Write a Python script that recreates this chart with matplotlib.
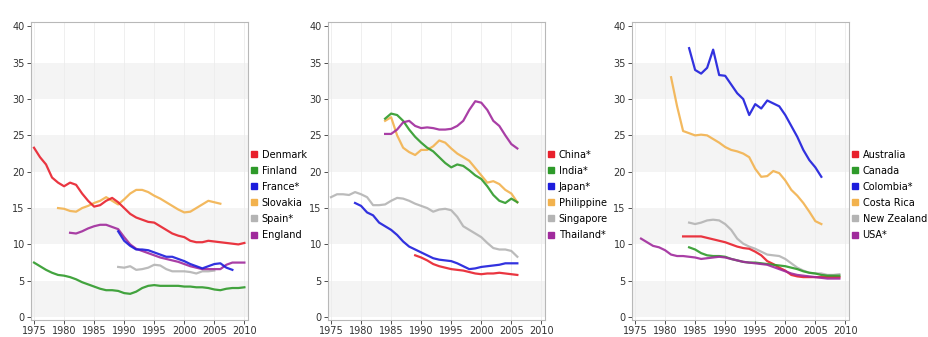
import matplotlib
matplotlib.use("Agg")
import matplotlib.pyplot as plt
from matplotlib.lines import Line2D

# panel 1
p1_names = ["Denmark", "Finland", "France*", "Slovakia", "Spain*", "England"]
denmark_x = list(range(1975, 2011))
denmark_y = [23.3, 22, 21, 19.2, 18.5, 18, 18.5, 18.2, 17, 16, 15.2, 15.4, 16, 16.4, 15.8, 15,
             14.2, 13.7, 13.4, 13.1, 13, 12.5, 12, 11.5, 11.2, 11, 10.5, 10.3, 10.3, 10.5, 10.4,
             10.3, 10.2, 10.1, 10.0, 10.2]
finland_x = list(range(1975, 2011))
finland_y = [7.5, 7, 6.5, 6.1, 5.8, 5.7, 5.5, 5.2, 4.8, 4.5, 4.2, 3.9, 3.7, 3.7, 3.6, 3.3, 3.2,
             3.5, 4.0, 4.3, 4.4, 4.3, 4.3, 4.3, 4.3, 4.2, 4.2, 4.1, 4.1, 4.0, 3.8, 3.7, 3.9, 4.0,
             4.0, 4.1]
france_x = list(range(1989, 2009))
france_y = [11.8, 10.5, 9.8, 9.3, 9.3, 9.2, 8.9, 8.6, 8.3, 8.3, 8.0, 7.7, 7.3, 7.0, 6.7, 7.0,
            7.3, 7.4, 6.8, 6.5]
slovakia_x = list(range(1979, 2007))
slovakia_y = [15, 14.9, 14.6, 14.5, 15, 15.3, 15.7, 16, 16.5, 16, 15.5, 16.2, 17, 17.5, 17.5,
              17.2, 16.7, 16.3, 15.8, 15.3, 14.8, 14.4, 14.5, 15, 15.5, 16, 15.8, 15.6]
spain_x = list(range(1989, 2006))
spain_y = [6.9, 6.8, 7, 6.5, 6.6, 6.8, 7.2, 7.1, 6.6, 6.3, 6.3, 6.3, 6.2, 6.0, 6.3, 6.3, 6.4]
england_x = list(range(1981, 2011))
england_y = [11.6, 11.5, 11.8, 12.2, 12.5, 12.7, 12.7, 12.4, 12.1, 11, 10, 9.4, 9.1, 8.8, 8.5,
             8.2, 8.0, 7.8, 7.6, 7.3, 7.0, 6.8, 6.6, 6.6, 6.6, 6.6, 7.2, 7.5, 7.5, 7.5]

# panel 2
p2_names = ["China*", "India*", "Japan*", "Philippine", "Singapore", "Thailand*"]
china_x = list(range(1989, 2007))
china_y = [8.5, 8.2, 7.8, 7.3, 7.0, 6.8, 6.6, 6.5, 6.4, 6.2, 6.0, 5.9, 6.0, 6.0, 6.1, 6.0, 5.9, 5.8]
india_x = list(range(1984, 2007))
india_y = [27.3, 28, 27.8, 27, 25.8, 24.8, 24, 23.3, 22.8, 22, 21.2, 20.6, 21, 20.8, 20.2, 19.5,
           19, 18, 16.8, 16, 15.7, 16.3, 15.8]
japan_x = list(range(1979, 2007))
japan_y = [15.7, 15.3, 14.4, 14, 13, 12.5, 12, 11.3, 10.4, 9.7, 9.3, 8.9, 8.5, 8.1, 7.9, 7.8,
           7.7, 7.4, 7.0, 6.6, 6.7, 6.9, 7.0, 7.1, 7.2, 7.4, 7.4, 7.4]
philippine_x = list(range(1984, 2007))
philippine_y = [27, 27.5, 25, 23.3, 22.7, 22.3, 23, 23, 23.5, 24.3, 24, 23.2, 22.5, 22, 21.5,
                20.5, 19.5, 18.5, 18.7, 18.3, 17.5, 17, 15.8]
singapore_x = list(range(1975, 2007))
singapore_y = [16.5, 16.9, 16.9, 16.8, 17.2, 16.9, 16.5, 15.4, 15.4, 15.5, 16, 16.4, 16.3, 16,
               15.6, 15.3, 15, 14.5, 14.8, 14.9, 14.7, 13.8, 12.5, 12, 11.5, 11, 10.2, 9.5, 9.3,
               9.3, 9.1, 8.3]
thailand_x = list(range(1984, 2007))
thailand_y = [25.2, 25.2, 25.8, 26.8, 27, 26.3, 26, 26.1, 26, 25.8, 25.8, 25.9, 26.3, 27, 28.5,
              29.7, 29.5, 28.5, 27, 26.3, 25, 23.8, 23.2]

# panel 3
p3_names = ["Australia", "Canada", "Colombia*", "Costa Rica", "New Zealand", "USA*"]
australia_x = list(range(1983, 2010))
australia_y = [11.1, 11.1, 11.1, 11.1, 10.9, 10.7, 10.5, 10.3, 10.0, 9.7, 9.5, 9.4, 9.0, 8.5,
               7.7, 7.3, 6.8, 6.4, 5.8, 5.6, 5.5, 5.5, 5.5, 5.5, 5.5, 5.5, 5.5]
canada_x = list(range(1984, 2010))
canada_y = [9.6, 9.3, 8.8, 8.5, 8.4, 8.4, 8.3, 8.0, 7.8, 7.6, 7.5, 7.5, 7.4, 7.3, 7.2, 7.1, 7.0,
            6.8, 6.6, 6.3, 6.1, 6.0, 5.8, 5.7, 5.7, 5.7]
colombia_x = list(range(1984, 2007))
colombia_y = [37, 34, 33.5, 34.3, 36.8, 33.3, 33.2, 32, 30.8, 30, 27.8, 29.3, 28.7, 29.8, 29.4,
              29, 27.8, 26.3, 24.8, 23, 21.6, 20.6, 19.3]
costarica_x = list(range(1981, 2007))
costarica_y = [33, 29, 25.6, 25.3, 25, 25.1, 25, 24.5, 24, 23.4, 23, 22.8, 22.5, 22, 20.4, 19.3,
               19.4, 20.1, 19.8, 18.8, 17.5, 16.7, 15.7, 14.5, 13.2, 12.8]
newzealand_x = list(range(1984, 2010))
newzealand_y = [13, 12.8, 13, 13.3, 13.4, 13.3, 12.8, 12, 10.8, 10.1, 9.7, 9.4, 9, 8.6, 8.5, 8.4,
                8.0, 7.4, 6.8, 6.4, 6.1, 6.0, 6.0, 5.8, 5.8, 5.9]
usa_x = list(range(1976, 2010))
usa_y = [10.8, 10.3, 9.8, 9.6, 9.2, 8.6, 8.4, 8.4, 8.3, 8.2, 8.0, 8.1, 8.2, 8.3, 8.2, 8.0, 7.8,
         7.6, 7.5, 7.4, 7.3, 7.2, 6.9, 6.6, 6.3, 6.0, 5.8, 5.7, 5.6, 5.5, 5.4, 5.3, 5.3, 5.3]

colors = ["#e8202c", "#2e9a2a", "#1c1cdc", "#f2b24e", "#b4b4b4", "#a02a9c"]

panels = [
    (p1_names, [(denmark_x, denmark_y), (finland_x, finland_y), (france_x, france_y),
                (slovakia_x, slovakia_y), (spain_x, spain_y), (england_x, england_y)]),
    (p2_names, [(china_x, china_y), (india_x, india_y), (japan_x, japan_y),
                (philippine_x, philippine_y), (singapore_x, singapore_y), (thailand_x, thailand_y)]),
    (p3_names, [(australia_x, australia_y), (canada_x, canada_y), (colombia_x, colombia_y),
                (costarica_x, costarica_y), (newzealand_x, newzealand_y), (usa_x, usa_y)]),
]
# draw order back to front (gray under colors)
order = [4, 3, 0, 1, 5, 2]

fig = plt.figure(figsize=(9.29, 3.37), dpi=100)
lefts = [31, 328, 632]

for left, (names, series) in zip(lefts, panels):
    ax = fig.add_axes([left / 929, 17 / 337, 217 / 929, 298 / 337])
    for lo in range(0, 40, 10):
        ax.axhspan(lo, lo + 5, color="#f4f4f4", zorder=0, lw=0)
    for xv in range(1975, 2011, 5):
        ax.axvline(xv, color="#ececec", lw=0.6, zorder=0)
    for i in order:
        xs, ys = series[i]
        ax.plot(xs, ys, color=colors[i], lw=1.6, alpha=0.9, zorder=2)
    ax.set_xlim(1974.5, 2010.6)
    ax.set_ylim(-0.4, 40.6)
    ax.set_xticks(range(1975, 2011, 5))
    ax.set_yticks(range(0, 41, 5))
    ax.tick_params(labelsize=7, colors="#333333", length=3, width=0.6, pad=1.5)
    for s in ax.spines.values():
        s.set_color("#b8b8b8")
        s.set_linewidth(0.8)
    handles = [Line2D([], [], marker="s", ls="", color=c, markersize=5) for c in colors]
    ax.legend(handles, names, loc="center left", bbox_to_anchor=(1.0, 0.42), frameon=False,
              fontsize=7, handlelength=0.6, handletextpad=0.5, labelspacing=0.62,
              borderaxespad=0.2, borderpad=0.1)

fig.savefig("out.png", dpi=100)
